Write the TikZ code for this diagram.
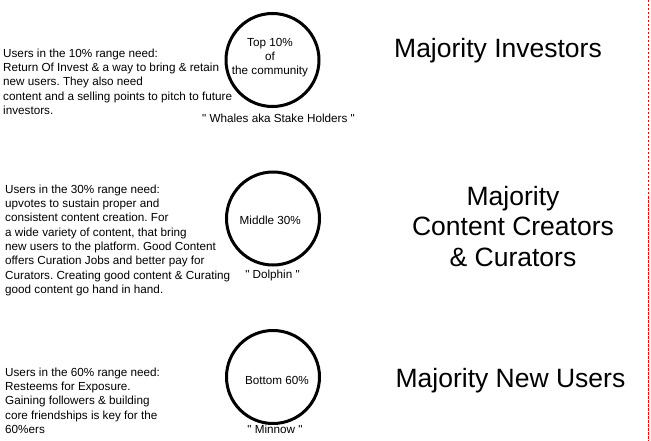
\documentclass[tikz,border=0pt]{standalone}
\usepackage{fontspec}
\setmainfont{Liberation Sans}
\frenchspacing
\begin{document}
\begin{tikzpicture}[x=1pt,y=-1pt,
  body/.style={inner sep=0pt,font=\fontsize{11.7}{14.3}\selectfont},
  title/.style={inner sep=0pt,font=\fontsize{26.5}{30.3}\selectfont,align=center},
  ring/.style={circle,draw=black,line width=3pt,minimum size=93pt,inner sep=0pt}]
\useasboundingbox (0,0) rectangle (651,441);
% circles
\node[ring] (c1) at (272.5,60) {};
\node[ring] (c2) at (273,218.5) {};
\node[ring] (c3) at (273,377) {};
% circle texts
\node[body,align=center,anchor=north] (t1) at (270,37.8) {Top 10\%\\of\\the community};
\node[body,anchor=base] (t2) at (270.3,225) {Middle 30\%};
\node[body,anchor=base] (t3) at (277,384) {Bottom 60\%};
% labels under circles
\node[body,anchor=base] (l1) at (278.5,122.5) {\textquotedbl{} Whales aka Stake Holders \textquotedbl};
\node[body,anchor=base] (l2) at (272.5,278) {\textquotedbl{} Dolphin \textquotedbl};
\node[body,anchor=base] (l3) at (275,433) {\textquotedbl{} Minnow \textquotedbl};
% left descriptions
\node[body,align=left,anchor=north west] (d1) at (3,48.7) {Users in the 10\% range need:\\Return Of Invest \& a way to bring \& retain\\new users. They also need\\content and a selling points to pitch to future\\investors.};
\node[body,align=left,anchor=north west] (d2) at (5,184.7) {Users in the 30\% range need:\\upvotes to sustain proper and\\consistent content creation. For\\a wide variety of content, that bring\\new users to the platform. Good Content\\offers Curation Jobs and better pay for\\Curators. Creating good content \& Curating\\good content go hand in hand.};
\node[body,align=left,anchor=north west] (d3) at (5,367.7) {Users in the 60\% range need:\\Resteems for Exposure.\\Gaining followers \& building\\core friendships is key for the\\60\%ers};
% right titles
\node[title,anchor=base] (r1) at (498,57.3) {Majority Investors};
\node[title,anchor=north] (r2) at (513,186) {Majority\\Content Creators\\\& Curators};
\node[title,anchor=base] (r3) at (510.5,387.3) {Majority New Users};
% red dashed margin line
\coordinate (m1) at (648.3,0);
\coordinate (m2) at (648.3,441);
\draw[red,line width=1.2pt,dash pattern=on 2.5pt off 1.5pt] (m1) -- (m2);
\end{tikzpicture}
\end{document}
